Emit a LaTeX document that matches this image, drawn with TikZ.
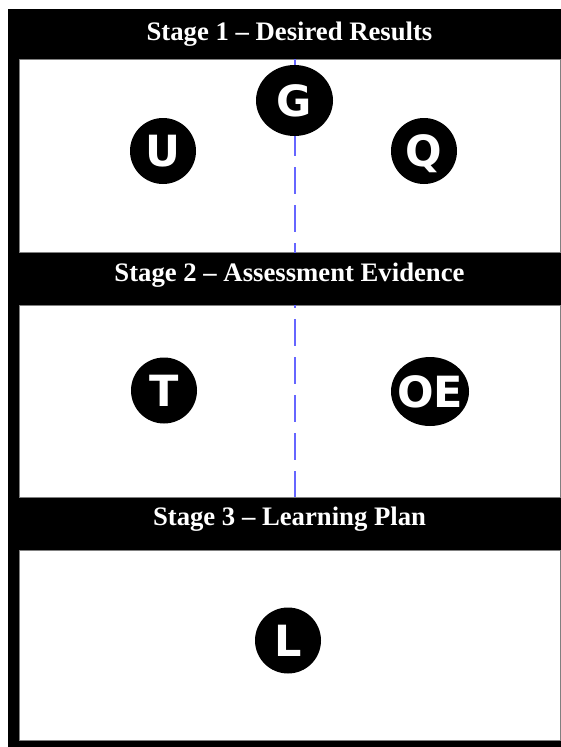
\documentclass[tikz,border=0pt]{standalone}
\usepackage{fontspec}
\setmainfont{Liberation Serif}
\newfontfamily\letterfont{DejaVu Sans}
\usetikzlibrary{shapes.geometric}
\newcommand{\dotlabel}[1]{\raisebox{-.5\height}[0pt][0pt]{\makebox[0pt]{#1}}}

\tikzset{
	stagetitle/.style={text=white, anchor=base, inner sep=0pt, font=\bfseries\fontsize{26.7}{30}\selectfont},
	stagepanel/.style={fill=white, draw=black!50, line width=1pt},
	letterdot/.style={ellipse, fill=black, text=white, inner sep=0pt, minimum width=66pt, minimum height=66pt, font=\letterfont\bfseries\fontsize{43}{43}\selectfont},
	splitline/.style={draw=blue!60, line width=2pt, dash pattern=on 27pt off 11pt, dash phase=6pt}
}

\begin{document}
\begin{tikzpicture}[x=1pt, y=-1pt]
		%%%%% FRAME %%%%%
		\useasboundingbox (0, 0) rectangle (561, 747);
		\fill[black] (8, 9) rectangle (561, 747);
		
		\draw[stagepanel] (19, 59) rectangle (560, 252);
		\draw[stagepanel] (19, 305) rectangle (560, 497);
		\draw[stagepanel] (19, 550) rectangle (560, 740);
		
		%%%%% DIVIDER %%%%%
		\coordinate (top) at (295, 59);
		\coordinate (bottom) at (295, 497);
		\draw[splitline] (top) -- (bottom);
		\fill[black] (19.5, 252.5) rectangle (559.5, 304.5);
		
		%%%%% TITLES %%%%%
		\node[stagetitle] (stage1) at (289.5, 40) {Stage 1 -- Desired Results};
		\node[stagetitle] (stage2) at (289.5, 281) {Stage 2 -- Assessment Evidence};
		\node[stagetitle] (stage3) at (289.5, 525) {Stage 3 -- Learning Plan};
		
		%%%%% LETTERS %%%%%
		\node[letterdot, minimum width=77pt, minimum height=71pt] (G) at (294.5, 100.5) {\dotlabel{G}};
		\node[letterdot] (U) at (163, 151) {\dotlabel{U}};
		\node[letterdot] (Q) at (424, 151) {\dotlabel{Q}};
		\node[letterdot] (T) at (164, 390.5) {\dotlabel{T}};
		\node[letterdot, minimum width=78pt, minimum height=69pt] (OE) at (430, 391.5) {\dotlabel{OE}};
		\node[letterdot] (L) at (288, 640.5) {\dotlabel{L}};
		
\end{tikzpicture}
\end{document}
